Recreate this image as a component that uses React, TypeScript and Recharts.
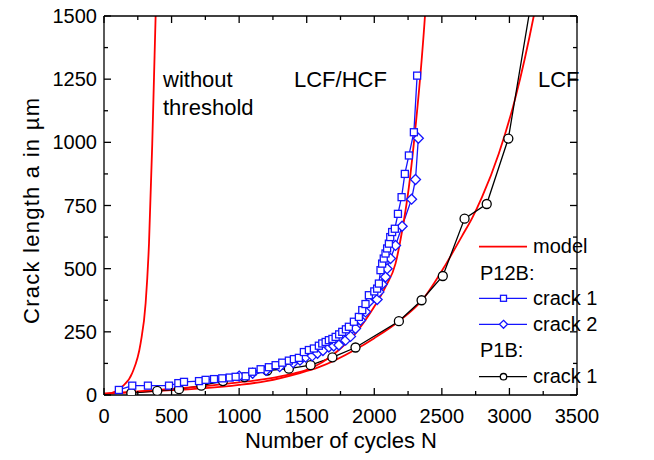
import React from 'react';
import { LineChart, Line, XAxis, YAxis, Legend, Customized } from 'recharts';

// tick positions (labels on every second one)
const X_TICKS = [0, 250, 500, 750, 1000, 1250, 1500, 1750, 2000, 2250, 2500, 2750, 3000, 3250, 3500];
const Y_TICKS = [0, 125, 250, 375, 500, 625, 750, 875, 1000, 1125, 1250, 1375, 1500];

// model curves [N, a]
const MODEL_NO_THRESHOLD: [number, number][] = [
  [0, 3], [59, 8], [135, 33], [209, 87], [271, 205], [308, 363], [333, 600],
  [357, 994], [370, 1257], [382, 1500], [392, 1700],
];
const MODEL_LCF_HCF: [number, number][] = [
  [0, 5], [200, 12], [500, 24], [800, 38], [1000, 50], [1200, 64], [1400, 85],
  [1500, 100], [1615, 130], [1738, 178], [1861, 244], [1984, 336], [2083, 428],
  [2157, 520], [2206, 650], [2256, 823], [2305, 1060], [2350, 1323], [2375, 1500], [2395, 1680],
];
const MODEL_LCF: [number, number][] = [
  [0, 5], [250, 12], [500, 19], [750, 27], [1000, 40], [1200, 55], [1442, 86],
  [1590, 110], [1861, 180], [2000, 225], [2182, 292], [2354, 375], [2527, 515],
  [2650, 630], [2724, 700], [2797, 783], [2921, 955], [3045, 1178], [3180, 1500], [3250, 1700],
];

// measurements
const P12B_CRACK1: [number, number][] = [
  [110, 20], [209, 37], [325, 37], [481, 37], [550, 47], [592, 52], [703, 55], [752, 60],
  [814, 63], [875, 66], [930, 69], [974, 72], [1048, 74], [1097, 92], [1159, 102], [1220, 110],
  [1270, 118], [1319, 128], [1368, 136], [1405, 142], [1442, 147], [1479, 170], [1516, 178],
  [1553, 184], [1590, 195], [1615, 204], [1640, 210], [1664, 217], [1690, 222], [1714, 230],
  [1740, 240], [1763, 250], [1790, 260], [1812, 270], [1849, 290], [1886, 309], [1911, 336],
  [1935, 360], [1960, 395], [2000, 410], [2021, 421], [2034, 441], [2046, 494], [2058, 520],
  [2070, 540], [2083, 560], [2095, 580], [2108, 599], [2118, 625], [2132, 645], [2152, 658],
  [2175, 717], [2202, 783], [2226, 875], [2256, 948], [2293, 1040], [2317, 1264],
];
const P12B_CRACK2: [number, number][] = [
  [1000, 75], [1100, 86], [1200, 98], [1300, 112], [1400, 128], [1450, 138], [1492, 150],
  [1541, 155], [1580, 165], [1620, 176], [1664, 190], [1700, 194], [1738, 198], [1788, 217],
  [1824, 232], [1861, 263], [1898, 296], [1935, 329], [1960, 368], [2021, 378], [2034, 408],
  [2058, 438], [2083, 467], [2095, 500], [2120, 540], [2157, 592], [2206, 668], [2276, 775],
  [2305, 853], [2326, 1016],
];
const P1B_CRACK1: [number, number][] = [
  [202, 8], [394, 16], [555, 23], [720, 37], [880, 55], [1040, 71], [1208, 97], [1368, 104],
  [1529, 118], [1690, 149], [1861, 188], [2182, 292], [2350, 375], [2507, 471], [2668, 698],
  [2832, 756], [2992, 1015], [3250, 1840],
];

const toPoints = (pairs: [number, number][]) => pairs.map(([N, a]) => ({ N, a }));

const RED = '#ff0000';
const BLUE = '#1414ff';
const FONT = 'Arial, "Liberation Sans", sans-serif';

const renderBottomTick = (p: any) => {
  const major = p.payload.value % 500 === 0;
  return (
    <g>
      <line x1={p.x} x2={p.x} y1={p.y} y2={p.y - (major ? 7 : 4)} stroke="#000" strokeWidth={1.3} />
      {major && (
        <text x={p.x} y={p.y + 28} textAnchor="middle" fontSize={20} fontFamily={FONT} fill="#000">
          {p.payload.value}
        </text>
      )}
    </g>
  );
};
const renderTopTick = (p: any) => {
  const major = p.payload.value % 500 === 0;
  return <line x1={p.x} x2={p.x} y1={p.y} y2={p.y + (major ? 7 : 4)} stroke="#000" strokeWidth={1.3} />;
};
const renderLeftTick = (p: any) => {
  const major = p.payload.value % 250 === 0;
  return (
    <g>
      <line x1={p.x} x2={p.x + (major ? 7 : 4)} y1={p.y} y2={p.y} stroke="#000" strokeWidth={1.3} />
      {major && (
        <text x={p.x - 7} y={p.y + 7} textAnchor="end" fontSize={20} fontFamily={FONT} fill="#000">
          {p.payload.value}
        </text>
      )}
    </g>
  );
};
const renderRightTick = (p: any) => {
  const major = p.payload.value % 250 === 0;
  return <line x1={p.x} x2={p.x - (major ? 7 : 4)} y1={p.y} y2={p.y} stroke="#000" strokeWidth={1.3} />;
};

const squareDot = (p: any) =>
  p.cx == null ? null : (
    <rect key={`s${p.index}`} x={p.cx - 3.5} y={p.cy - 3.5} width={7} height={7} fill="#fff" stroke={BLUE} strokeWidth={1.3} />
  );
const diamondDot = (p: any) =>
  p.cx == null ? null : (
    <path key={`d${p.index}`} d={`M${p.cx},${p.cy - 5}L${p.cx + 5},${p.cy}L${p.cx},${p.cy + 5}L${p.cx - 5},${p.cy}Z`} fill="#fff" stroke={BLUE} strokeWidth={1.3} />
  );
const circleDot = (p: any) =>
  p.cx == null ? null : (
    <circle key={`c${p.index}`} cx={p.cx} cy={p.cy} r={4.5} fill="#fff" stroke="#000" strokeWidth={1.3} />
  );

const LegendBox = () => {
  const t = { fontSize: 20, fontFamily: FONT, fill: '#000' };
  return (
    <svg width={170} height={160}>
      <line x1={3} x2={51} y1={14.7} y2={14.7} stroke={RED} strokeWidth={1.8} />
      <text x={57} y={21.3} {...t}>model</text>
      <text x={4} y={48} {...t}>P12B:</text>
      <line x1={3} x2={51} y1={66.3} y2={66.3} stroke={BLUE} strokeWidth={1.3} />
      <rect x={24.5} y={63.3} width={6} height={6} fill="#fff" stroke={BLUE} strokeWidth={1.3} />
      <text x={57} y={73} {...t}>crack 1</text>
      <line x1={3} x2={51} y1={92.3} y2={92.3} stroke={BLUE} strokeWidth={1.3} />
      <path d="M27.5,88.3L31.5,92.3L27.5,96.3L23.5,92.3Z" fill="#fff" stroke={BLUE} strokeWidth={1.3} />
      <text x={57} y={99} {...t}>crack 2</text>
      <text x={4} y={124.7} {...t}>P1B:</text>
      <line x1={3} x2={51} y1={144.7} y2={144.7} stroke="#000" strokeWidth={1.3} />
      <circle cx={27.5} cy={144.7} r={3.2} fill="#fff" stroke="#000" strokeWidth={1.3} />
      <text x={57} y={151.3} {...t}>crack 1</text>
    </svg>
  );
};

const Annotations = () => {
  const t = { fontFamily: FONT, fill: '#000' };
  return (
    <g>
      <text x={163} y={87} fontSize={22} {...t}>without</text>
      <text x={163} y={115} fontSize={22} {...t}>threshold</text>
      <text x={294} y={87} fontSize={22} {...t}>LCF/HCF</text>
      <text x={538} y={87} fontSize={22} {...t}>LCF</text>
      <text x={341} y={448} fontSize={22} textAnchor="middle" {...t}>Number of cycles N</text>
      <text x={39} y={211} fontSize={22} textAnchor="middle" textLength={226} lengthAdjust="spacing"
        transform="rotate(-90 39 211)" {...t}>
        Crack length a in µm
      </text>
    </g>
  );
};

export default function App() {
  const axisLine = { stroke: '#000', strokeWidth: 1.3 };
  return (
    <div style={{ position: 'absolute', left: 0, top: 0, width: 654, height: 460, background: '#fff' }}>
      <LineChart width={654} height={460} margin={{ top: 15, right: 76, bottom: 0, left: 0 }}>
        <XAxis xAxisId="b" dataKey="N" type="number" domain={[0, 3500]} ticks={X_TICKS} interval={0}
          allowDataOverflow height={65} tickSize={0} tickMargin={0} tickLine={false} axisLine={axisLine} tick={renderBottomTick} />
        <XAxis xAxisId="t" orientation="top" dataKey="N" type="number" domain={[0, 3500]} ticks={X_TICKS} interval={0}
          allowDataOverflow height={1} tickSize={0} tickMargin={0} tickLine={false} axisLine={axisLine} tick={renderTopTick} />
        <YAxis yAxisId="l" type="number" domain={[0, 1500]} ticks={Y_TICKS} interval={0}
          allowDataOverflow width={104} tickSize={0} tickMargin={0} tickLine={false} axisLine={axisLine} tick={renderLeftTick} />
        <YAxis yAxisId="r" orientation="right" type="number" domain={[0, 1500]} ticks={Y_TICKS} interval={0}
          allowDataOverflow width={1} tickSize={0} tickMargin={0} tickLine={false} axisLine={axisLine} tick={renderRightTick} />

        <Line xAxisId="b" yAxisId="l" data={toPoints(MODEL_NO_THRESHOLD)} dataKey="a" type="monotone"
          stroke={RED} strokeWidth={1.8} dot={false} isAnimationActive={false} />
        <Line xAxisId="b" yAxisId="l" data={toPoints(MODEL_LCF)} dataKey="a" type="monotone"
          stroke={RED} strokeWidth={1.8} dot={false} isAnimationActive={false} />
        <Line xAxisId="b" yAxisId="l" data={toPoints(P1B_CRACK1)} dataKey="a" type="linear"
          stroke="#000" strokeWidth={1.3} dot={circleDot} isAnimationActive={false} />
        <Line xAxisId="b" yAxisId="l" data={toPoints(P12B_CRACK2)} dataKey="a" type="linear"
          stroke={BLUE} strokeWidth={1.3} dot={diamondDot} isAnimationActive={false} />
        <Line xAxisId="b" yAxisId="l" data={toPoints(P12B_CRACK1)} dataKey="a" type="linear"
          stroke={BLUE} strokeWidth={1.3} dot={squareDot} isAnimationActive={false} />
        <Line xAxisId="b" yAxisId="l" data={toPoints(MODEL_LCF_HCF)} dataKey="a" type="monotone"
          stroke={RED} strokeWidth={1.8} dot={false} isAnimationActive={false} />

        <Legend layout="vertical" align="center" verticalAlign="middle" content={LegendBox}
          wrapperStyle={{ position: 'absolute', left: 476, top: 232, width: 170, height: 160 }} />
        <Customized component={Annotations} />
      </LineChart>
    </div>
  );
}
